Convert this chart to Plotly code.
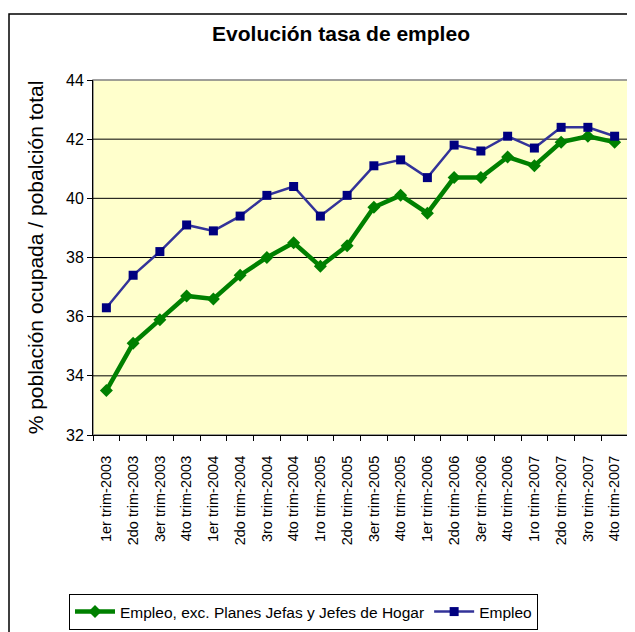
import plotly.graph_objects as go

categories = ["1er trim-2003", "2do trim-2003", "3er trim-2003", "4to trim-2003",
              "1er trim-2004", "2do trim-2004", "3ro trim-2004", "4to trim-2004",
              "1ro trim-2005", "2do trim-2005", "3er trim-2005", "4to trim-2005",
              "1er trim-2006", "2do trim-2006", "3er trim-2006", "4to trim-2006",
              "1ro trim-2007", "2do trim-2007", "3ro trim-2007", "4to trim-2007"]
empleo_exc = [33.5, 35.1, 35.9, 36.7, 36.6, 37.4, 38.0, 38.5, 37.7, 38.4,
              39.7, 40.1, 39.5, 40.7, 40.7, 41.4, 41.1, 41.9, 42.1, 41.9]
empleo = [36.3, 37.4, 38.2, 39.1, 38.9, 39.4, 40.1, 40.4, 39.4, 40.1,
          41.1, 41.3, 40.7, 41.8, 41.6, 42.1, 41.7, 42.4, 42.4, 42.1]
y_ticks = [32, 34, 36, 38, 40, 42, 44]
grid_ticks = [34, 36, 38, 40, 42]

FONT = "Liberation Sans, Arial, sans-serif"
W, H = 627, 624
L, R, T, B = 85, 7, 72, 197
PW, PH = W - L - R, H - T - B

fig = go.Figure()
fig.add_trace(go.Scatter(
    x=categories, y=empleo_exc, name="Empleo, exc. Planes Jefas y Jefes de Hogar",
    mode="lines+markers", line=dict(color="#008000", width=4.5),
    marker=dict(symbol="diamond", size=10, color="#008000")))
fig.add_trace(go.Scatter(
    x=categories, y=empleo, name="Empleo",
    mode="lines+markers", line=dict(color="#333399", width=2.5),
    marker=dict(symbol="square", size=9, color="#000080")))

fig.update_layout(
    width=W, height=H,
    margin=dict(l=L, r=R, t=T, b=B),
    paper_bgcolor="white", plot_bgcolor="#FFFFCC",
    font=dict(family=FONT, color="black"),
    title=dict(text="<b>Evolución tasa de empleo</b>", x=333 / W, xanchor="center",
               y=1 - 26 / H, yanchor="middle", font=dict(size=21, family=FONT)),
    showlegend=True,
    legend=dict(orientation="h", x=61 / W, xref="container", xanchor="left",
                y=1 - 586 / H, yref="container", yanchor="top",
                bordercolor="black", borderwidth=1,
                font=dict(size=15.5, family=FONT), bgcolor="white",
                itemwidth=40, tracegroupgap=0),
    xaxis=dict(type="category", range=[-0.5, 19.5], tickangle=-90,
               tickfont=dict(size=14.5, family=FONT), ticks="outside", ticklen=5,
               ticklabelstandoff=14,
               tickson="boundaries", tickcolor="black", showline=True,
               linecolor="black", linewidth=1, showgrid=False, mirror=False),
    yaxis=dict(range=[32, 44], tickvals=y_ticks, tickfont=dict(size=16, family=FONT),
               ticks="outside", ticklen=5, tickcolor="black", showline=True,
               linecolor="black", linewidth=1, showgrid=False,
               title=dict(text="% población ocupada / pobalción total",
                          font=dict(size=21, family=FONT), standoff=16)),
    shapes=[
        dict(type="rect", xref="paper", yref="paper", x0=0, x1=1, y0=0, y1=1,
             line=dict(color="#808080", width=1.5), layer="below"),
        dict(type="rect", xref="paper", yref="paper", x0=-(L - 1) / PW, x1=(W - L + 20) / PW,
             y0=-(B + 20) / PH, y1=1 + (T - 6) / PH, line=dict(color="black", width=1.5)),
    ] + [
        dict(type="line", xref="paper", yref="y", x0=0, x1=1, y0=g, y1=g,
             line=dict(color="black", width=1), layer="below")
        for g in grid_ticks
    ],
)
fig.write_html("out.html")
